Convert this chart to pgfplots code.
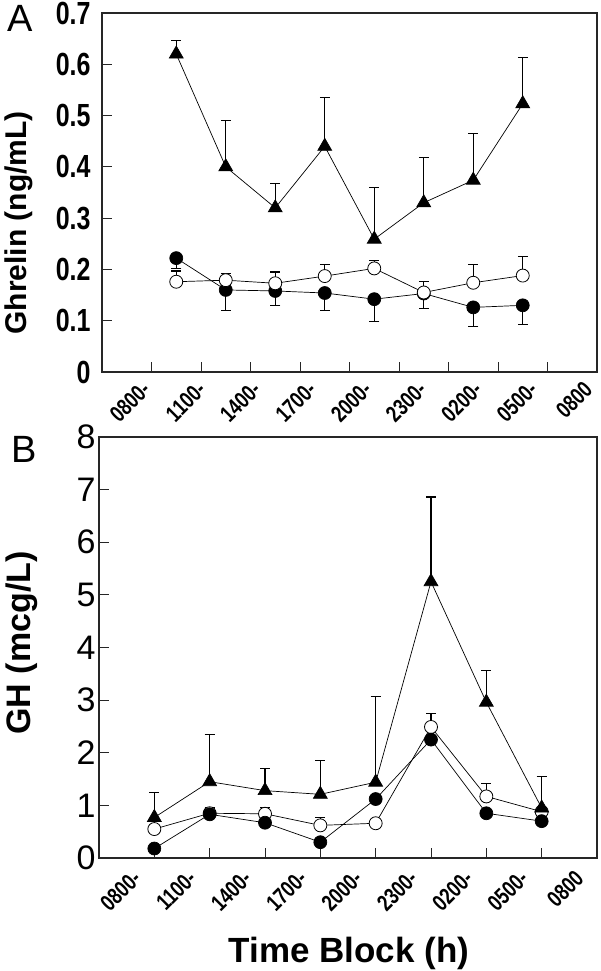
\documentclass[border=0pt]{standalone}
\usepackage{pgfplots}
\pgfplotsset{compat=1.18}
\usepackage{fontspec}
\setmainfont{Liberation Sans}
\newfontfamily\narrowsans[FakeStretch=0.78]{Liberation Sans}

% Ghrelin, panel A: x = middle of each 3-h block
\pgfplotstableread{
x    y      e
0.5  0.620  0.026
1.5  0.400  0.090
2.5  0.320  0.047
3.5  0.440  0.095
4.5  0.259  0.101
5.5  0.330  0.088
6.5  0.374  0.091
7.5  0.523  0.090
}\ghrTri
\pgfplotstableread{
x    y      e
0.5  0.222  0.020
1.5  0.160  0.040
2.5  0.158  0.028
3.5  0.154  0.034
4.5  0.142  0.043
5.5  0.153  0.029
6.5  0.126  0.038
7.5  0.130  0.037
}\ghrFilled
\pgfplotstableread{
x    y      e
0.5  0.176  0.021
1.5  0.179  0.013
2.5  0.173  0.022
3.5  0.187  0.023
4.5  0.202  0.016
5.5  0.155  0.022
6.5  0.174  0.036
7.5  0.188  0.037
}\ghrOpen

% GH, panel B: x = start of each block
\pgfplotstableread{
x  y     e
0  0.77  0.48
1  1.45  0.90
2  1.28  0.42
3  1.21  0.65
4  1.44  1.63
5  5.25  1.61
6  2.96  0.61
7  0.95  0.60
}\ghTri
\pgfplotstableread{
x  y
0  0.18
1  0.83
2  0.67
3  0.30
4  1.12
5  2.25
6  0.85
7  0.70
}\ghFilled
\pgfplotstableread{
x  y     e
0  0.55  0.20
1  0.85  0.10
2  0.84  0.12
3  0.62  0.15
4  0.66  0.00
5  2.49  0.25
6  1.17  0.25
7  0.88  0.00
}\ghOpen

\tikzset{
  blocklabel/.style={font=\narrowsans\bfseries\fontsize{23}{23}\selectfont,
      inner sep=0pt, xshift=#1, rotate=45, anchor=north east},
}

\pgfplotsset{
  panel/.style={
    scale only axis,
    anchor=south west,
    axis line style={black!85, line width=1.1pt},
    tick style={black!85, line width=1pt},
    tick align=inside,
    xtick pos=left, ytick pos=left,
    major tick length=10pt,
    /pgf/number format/assume math mode=true,
  },
  tri/.style={black, line width=0.7pt, mark=triangle*, mark size=8pt,
    mark options={solid, fill=black},
    error bars/.cd, y dir=plus, y explicit,
    error bar style={line width=1.1pt, black},
    error mark options={rotate=90, mark size=5pt, line width=1.1pt}},
  fcirc/.style={black, line width=0.7pt, mark=*, mark size=6.5pt,
    mark options={solid, fill=black}},
  ocirc/.style={black, line width=0.7pt, mark=*, mark size=6.5pt,
    mark options={solid, fill=white, line width=0.8pt}},
  ebar/.style={error bars/.cd, y dir=#1, y explicit,
    error bar style={line width=1.1pt, black},
    error mark options={rotate=90, mark size=5pt, line width=1.1pt}},
}

\begin{document}
\begin{tikzpicture}
\useasboundingbox (0,0) rectangle (600pt,971pt);

% Panel A: ghrelin (block labels set on their own, slightly wider, positions)
\begin{axis}[panel,
  at={(102pt,599pt)}, width=495pt, height=359pt,
  xmin=-1, xmax=9, ymin=0, ymax=0.7,
  xtick={0,...,8}, xticklabels={},
  extra x ticks={-0.18,0.94,2.05,3.17,4.29,5.40,6.52,7.64,8.75},
  extra x tick labels={0800-,1100-,1400-,1700-,2000-,2300-,0200-,0500-,0800},
  extra x tick style={major tick length=0pt,
    xticklabel style={blocklabel=-10pt, yshift=-11pt}},
  ytick={0,0.1,...,0.7},
  yticklabels={0,0.1,0.2,0.3,0.4,0.5,0.6,0.7},
  yticklabel style={font=\narrowsans\bfseries\fontsize{32}{32}\selectfont, xshift=-8pt},
]
\addplot[tri] table[x=x, y=y, y error=e] {\ghrTri};
\addplot[fcirc, ebar=minus] table[x=x, y=y, y error=e] {\ghrFilled};
\addplot[ocirc, ebar=plus] table[x=x, y=y, y error=e] {\ghrOpen};
\end{axis}

% Panel B: growth hormone
\begin{axis}[panel,
  at={(99pt,113pt)}, width=498pt, height=421pt,
  xmin=-1, xmax=8, ymin=0, ymax=8,
  xtick={0,...,8},
  xticklabels={0800-,1100-,1400-,1700-,2000-,2300-,0200-,0500-,0800},
  xticklabel style={blocklabel=-34pt, yshift=-15pt},
  ytick={0,...,8},
  yticklabel style={font=\fontsize{34}{34}\selectfont},
]
\addplot[ocirc, ebar=plus] table[x=x, y=y, y error=e] {\ghOpen};
\addplot[fcirc] table[x=x, y=y] {\ghFilled};
\addplot[tri] table[x=x, y=y, y error=e] {\ghTri};
\end{axis}

% Axis titles and panel letters
\node[rotate=90, anchor=base, font=\bfseries\fontsize{30}{30}\selectfont]
  at (27pt,748pt) {Ghrelin (ng/mL)};
\node[rotate=90, anchor=base, font=\bfseries\fontsize{34}{34}\selectfont]
  at (30pt,328pt) {GH (mcg/L)};
\node[anchor=base, font=\bfseries\fontsize{35}{35}\selectfont]
  at (349pt,9pt) {Time Block (h)};
\node[anchor=base west, inner sep=0pt, font=\fontsize{38}{38}\selectfont]
  at (7pt,939pt) {A};
\node[anchor=base west, inner sep=0pt, font=\fontsize{38}{38}\selectfont]
  at (11pt,508pt) {B};
\end{tikzpicture}
\end{document}
